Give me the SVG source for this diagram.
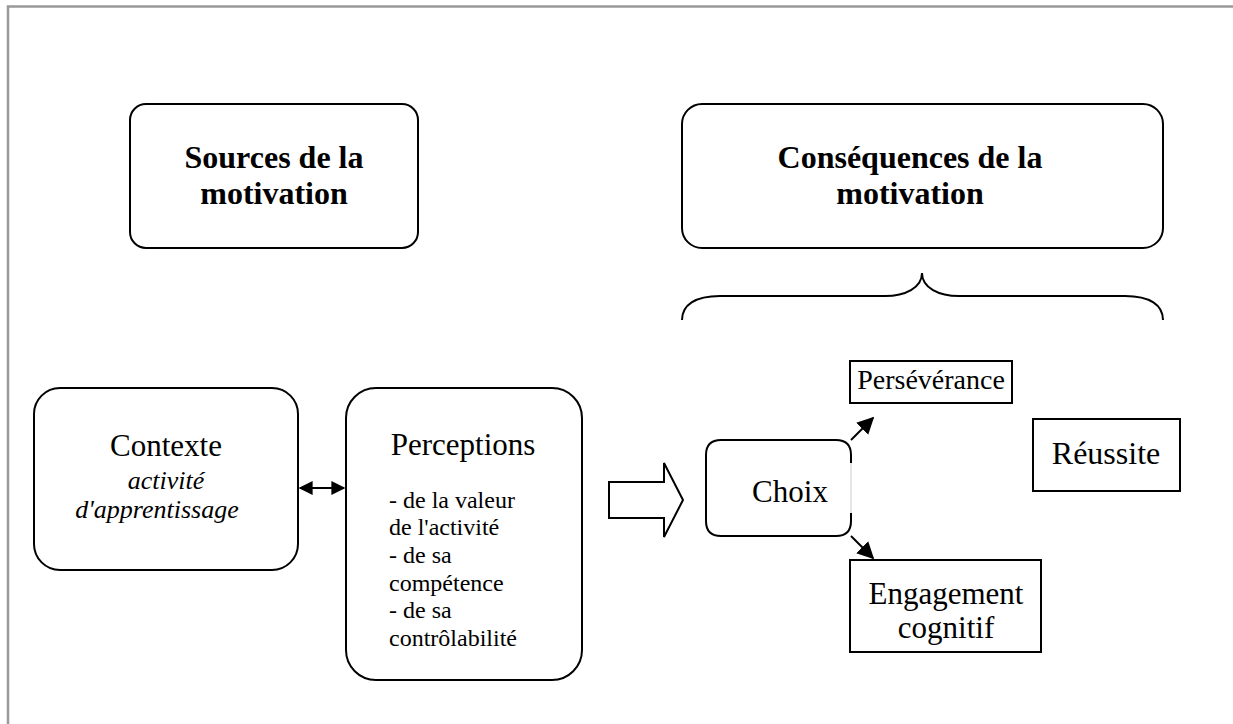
<svg xmlns="http://www.w3.org/2000/svg" width="1233" height="724" viewBox="0 0 1233 724">
<defs>
<style>
.box{fill:#fff;stroke:#000;stroke-width:2}
text{font-family:"Times New Roman","Liberation Serif",Tinos,"Nimbus Roman","DejaVu Serif",serif;fill:#000}
.h{font-size:32px;font-weight:bold;text-anchor:middle}
.m{font-size:31px;text-anchor:middle}
.i{font-size:26px;font-style:italic;text-anchor:middle}
.l{font-size:24px}
.ln{fill:none;stroke:#000;stroke-width:2}
</style>
<marker id="ah" viewBox="0 0 10 10" refX="9" refY="5" markerWidth="14" markerHeight="14" markerUnits="userSpaceOnUse" orient="auto-start-reverse">
<path d="M0,0 L10,5 L0,10 z" fill="#000"/>
</marker>
<marker id="ah2" viewBox="0 0 10 10" refX="9" refY="5" markerWidth="17" markerHeight="17" markerUnits="userSpaceOnUse" orient="auto">
<path d="M0,0 L10,5 L0,10 z" fill="#000"/>
</marker>
</defs>
<rect width="1233" height="724" fill="#fff"/>
<path d="M8,800 L8,6.5 L1300,6.5" fill="none" stroke="#999" stroke-width="2.5"/>

<g id="sources">
<rect class="box" x="130" y="104" width="288" height="144" rx="16"/>
<text class="h" x="274" y="168">Sources de la</text>
<text class="h" x="274" y="204">motivation</text>
</g>
<g id="consequences">
<rect class="box" x="682" y="104" width="481" height="144" rx="20"/>
<text class="h" x="910" y="168">Conséquences de la</text>
<text class="h" x="910" y="204">motivation</text>
</g>
<g id="brace">
<path class="ln" d="M682,320 C682,305 695,296 720,296 L885,296 C905,296 922,288 922,273 C922,288 939,296 959,296 L1125,296 C1150,296 1163,305 1163,320"/>
</g>
<g id="contexte">
<rect class="box" x="34" y="388" width="264" height="182" rx="26"/>
<text class="m" x="166" y="456">Contexte</text>
<text class="i" x="166" y="489">activité</text>
<text class="i" x="157" y="518">d'apprentissage</text>
</g>
<g id="perceptions">
<rect class="box" x="346" y="388" width="236" height="292" rx="30"/>
<text class="m" x="463" y="455">Perceptions</text>
<text class="l" x="389" y="508">- de la valeur</text>
<text class="l" x="389" y="535">de l'activité</text>
<text class="l" x="389" y="563">- de sa</text>
<text class="l" x="389" y="591">compétence</text>
<text class="l" x="389" y="618">- de sa</text>
<text class="l" x="389" y="646">contrôlabilité</text>
</g>
<g id="bigarrow">
<path class="ln" d="M609,482 L664,482 L664,463 L683,500 L664,537 L664,518 L609,518 Z" fill="#fff"/>
</g>
<g id="choix">
<path class="ln" d="M851,463 L851,455 Q851,440 836,440 L721,440 Q706,440 706,455 L706,521 Q706,536 721,536 L836,536 Q851,536 851,521 L851,513"/>
<line x1="851" y1="463" x2="851" y2="513" stroke="#ccc" stroke-width="1"/>
<text class="m" x="790" y="502">Choix</text>
</g>
<g id="perseverance">
<rect class="box" x="850" y="361" width="162" height="42"/>
<text class="m" x="931" y="389" style="font-size:28px">Persévérance</text>
</g>
<g id="reussite">
<rect class="box" x="1033" y="419" width="147" height="72"/>
<text class="m" x="1106" y="464" style="font-size:32px">Réussite</text>
</g>
<g id="engagement">
<rect class="box" x="850" y="560" width="191" height="92"/>
<text class="m" x="946" y="604" style="font-size:31px">Engagement</text>
<text class="m" x="946" y="638" style="font-size:31px">cognitif</text>
</g>
<g id="connectors">
<line class="ln" x1="300" y1="488" x2="344" y2="488" marker-start="url(#ah)" marker-end="url(#ah)"/>
<line class="ln" x1="851" y1="440" x2="873" y2="418" marker-end="url(#ah2)"/>
<line class="ln" x1="851" y1="536" x2="873" y2="558" marker-end="url(#ah2)"/>
</g>
</svg>
